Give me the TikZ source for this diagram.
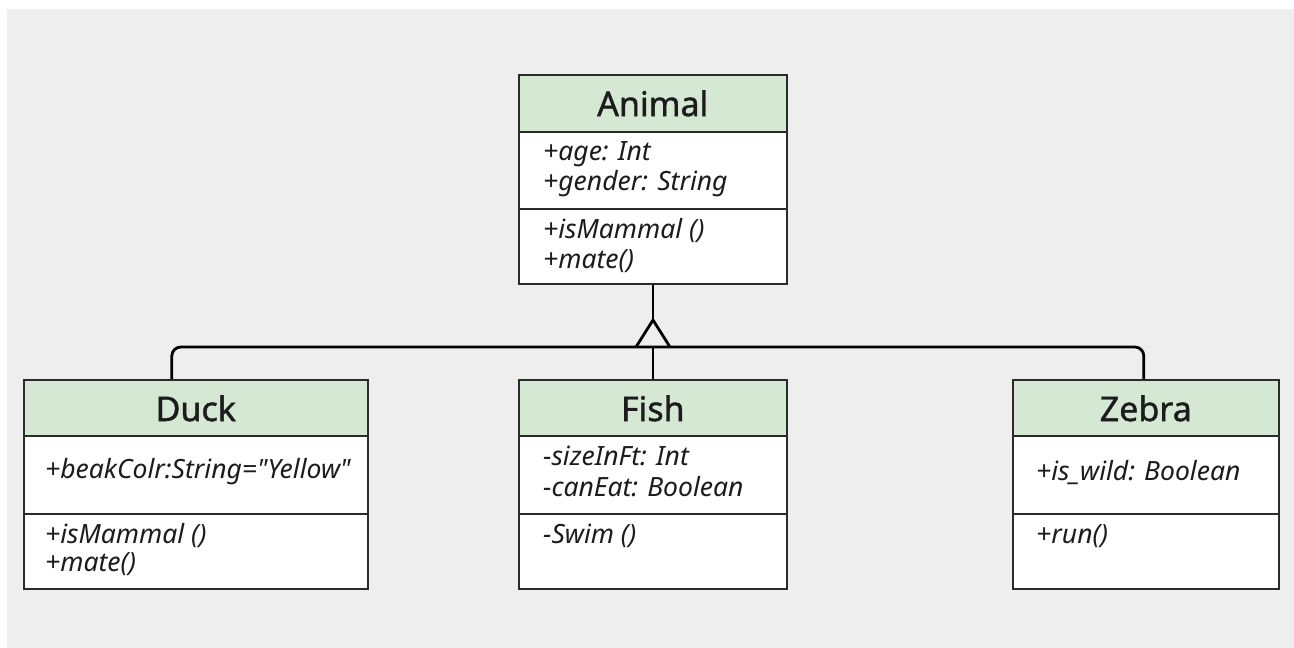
\documentclass[tikz,border=0pt]{standalone}
\usepackage{fontspec}
\setmainfont{Noto Sans}
\newfontfamily\titlefont[FakeBold=1.2]{Noto Sans}
\definecolor{canvas}{HTML}{EEEEEE}
\definecolor{headfill}{HTML}{D5E8D4}
\definecolor{ink}{HTML}{1C1C1C}
\definecolor{edge}{HTML}{2B2B2B}
\tikzset{
  classhead/.style={draw=edge, line width=1.6pt, fill=headfill, anchor=north west,
    inner sep=0pt, minimum width=#1, minimum height=57pt,
    font=\titlefont\fontsize{34}{38}\selectfont, text=ink},
  compart/.style={draw=edge, line width=1.6pt, fill=white, anchor=north west,
    inner sep=0pt, minimum width=#1},
  member/.style={anchor=mid west, inner sep=0pt, text=ink,
    font=\fontsize{26.5}{30}\selectfont\itshape},
  conn/.style={line width=2.8pt, draw=black},
}
\begin{document}
\begin{tikzpicture}[x=1pt, y=-1pt]
\useasboundingbox (0,0) rectangle (1294,648);
\fill[white] (0,0) rectangle (1294,648);
\fill[canvas] (7,9) rectangle (1294,648);

% Animal
\node[classhead=268pt] (animalhead) at (518,74) {Animal};
\node[compart=268pt, minimum height=77pt] (animalattr) at (518,131) {};
\node[compart=268pt, minimum height=75pt] (animalops) at (518,208) {};
\node[member] (a1) at (543,158) {+age: Int};
\node[member] (a2) at (543,188) {+gender: String};
\node[member] (a3) at (543,236) {+isMammal ()};
\node[member] (a4) at (543,266) {+mate()};

% Duck
\node[classhead=344pt] (duckhead) at (23,379) {Duck};
\node[compart=344pt, minimum height=78pt] (duckattr) at (23,435) {};
\node[compart=344pt, minimum height=75pt] (duckops) at (23,513) {};
\node[member] (d1) at (45,476) {+beakColr:String=\textquotedbl Yellow\textquotedbl};
\node[member] (d2) at (45,541) {+isMammal ()};
\node[member] (d3) at (45,569) {+mate()};

% Fish
\node[classhead=268pt] (fishhead) at (518,379) {Fish};
\node[compart=268pt, minimum height=78pt] (fishattr) at (518,435) {};
\node[compart=268pt, minimum height=75pt] (fishops) at (518,513) {};
\node[member] (f1) at (543,463) {-sizeInFt: Int};
\node[member] (f2) at (543,494) {-canEat: Boolean};
\node[member] (f3) at (543,541) {-Swim ()};

% Zebra
\node[classhead=266pt] (zebrahead) at (1012,379) {Zebra};
\node[compart=266pt, minimum height=78pt] (zebraattr) at (1012,435) {};
\node[compart=266pt, minimum height=75pt] (zebraops) at (1012,513) {};
\node[member] (z1) at (1036,478) {+is\_wild: Boolean};
\node[member] (z2) at (1036,541) {+run()};

% generalisation
\coordinate (junc) at (653,347);
\coordinate (apex) at (653,320);
\draw[conn] (animalops.south -| apex) -- (apex);
\draw[conn, rounded corners=9pt] ([xshift=-24pt]duckhead.north) |- (junc) -| ([xshift=-2pt]zebrahead.north);
\draw[conn] (fishhead.north -| junc) -- (junc);
\draw[conn, line join=miter] ([xshift=-17pt]junc) -- (apex) -- ([xshift=17pt]junc);
\end{tikzpicture}
\end{document}
